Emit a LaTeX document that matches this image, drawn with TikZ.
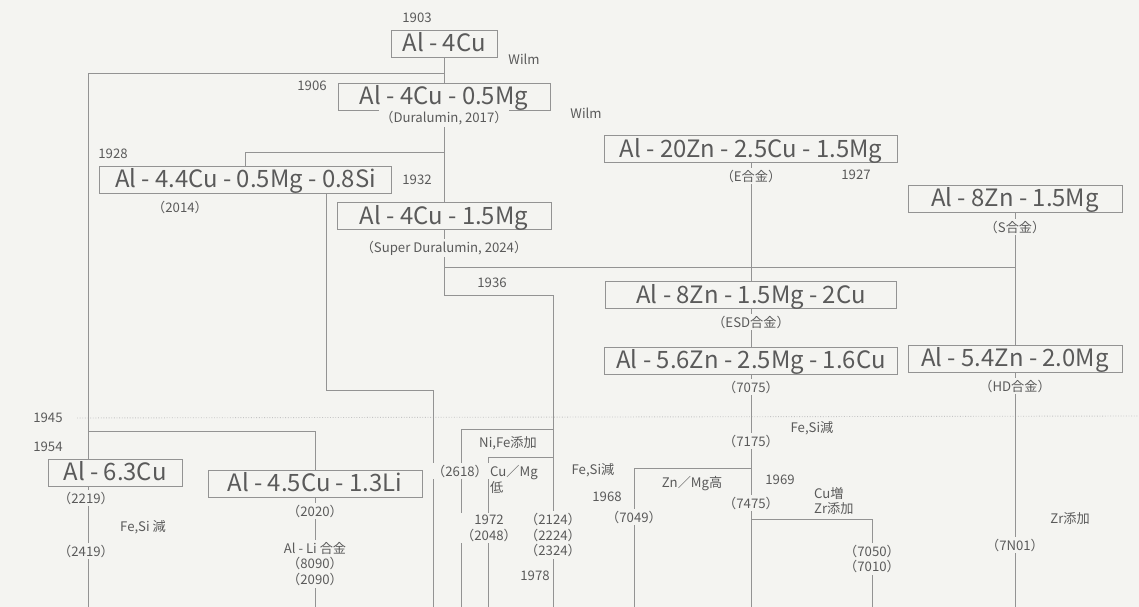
\documentclass[tikz,border=0pt]{standalone}
\usepackage{fontspec}
\newfontfamily\jp{Noto Sans CJK JP}
\usetikzlibrary{backgrounds}
\definecolor{scan}{HTML}{F4F4F1}
\definecolor{ink} {HTML}{5A5A5A}
\definecolor{rule}{HTML}{939393}

\begin{document}
\begin{tikzpicture}[x=0.02cm,y=-0.02cm,
          alloy/.style={draw=rule,fill=scan,text=ink,line width=0.55pt,minimum width=#1,
            minimum height=0.54cm,inner sep=0pt,text height=9.6pt,text depth=0pt,
            font=\jp\fontsize{13.6}{16}\selectfont},
          tag/.style={text=ink,inner sep=1pt,align=center,font=\jp\fontsize{7.5}{9}\selectfont},
          ontag/.style={tag,fill=scan},
          e/.style={rule,line width=0.55pt},
          era/.style={rule!55,line width=0.5pt,densely dotted}]
        \useasboundingbox (0,0) rectangle (1139,607);

        % Cu line
        \node[tag] (y1903) at (417,18) {1903};
        \node[alloy=2.12cm] (cu4) at (444,43.5) {Al - 4Cu};
        \node[tag] (w1) at (524,59) {Wilm};
        \node[tag] (y1906) at (312,86) {1906};
        \node[alloy=4.24cm] (cu4mg) at (444,96.5) {Al - 4Cu - 0.5Mg};
        \node[tag] (w2) at (586,113) {Wilm};
        \node[ontag] (dura) at (444,118) {（Duralumin, 2017）};
        \node[tag] (y1928) at (113,154) {1928};
        \node[alloy=5.86cm] (cu44) at (245.5,179.5) {Al - 4.4Cu - 0.5Mg - 0.8Si};
        \node[tag] (a2014) at (180,207) {（2014）};
        \node[tag] (y1932) at (417,180) {1932};
        \node[alloy=4.28cm] (cu4mg15) at (444,216) {Al - 4Cu - 1.5Mg};
        \node[ontag] (sdura) at (444,248) {（Super Duralumin, 2024）};
        \node[tag] (y1936) at (492,283) {1936};

        % Zn line
        \node[alloy=5.86cm] (zn20) at (751,149) {Al - 20Zn - 2.5Cu - 1.5Mg};
        \node[ontag] (ealloy) at (751,176) {（E合金）};
        \node[tag] (y1927) at (856,175) {1927};
        \node[alloy=4.28cm] (zn8) at (1015,198.5) {Al - 8Zn - 1.5Mg};
        \node[ontag] (salloy) at (1015,227) {（S合金）};
        \node[alloy=5.84cm] (zn8cu) at (751,295) {Al - 8Zn - 1.5Mg - 2Cu};
        \node[ontag] (esd) at (751,322) {（ESD合金）};
        \node[alloy=5.86cm] (zn56) at (751,360.5) {Al - 5.6Zn - 2.5Mg - 1.6Cu};
        \node[ontag] (a7075) at (751,387) {（7075）};
        \node[alloy=4.28cm] (zn54) at (1015,358.5) {Al - 5.4Zn - 2.0Mg};
        \node[ontag] (hd) at (1015,386) {（HD合金）};

        % after 1945
        \node[tag] (y1945) at (48,418) {1945};
        \node[tag] (y1954) at (48,447) {1954};
        \node[alloy=2.68cm] (cu63) at (115,472.5) {Al - 6.3Cu};
        \node[ontag] (a2219) at (86,498) {（2219）};
        \node[tag] (fesi1) at (143,527) {Fe,Si 減};
        \node[ontag] (a2419) at (86,551) {（2419）};
        \node[alloy=4.28cm] (cu45li) at (315,483.5) {Al - 4.5Cu - 1.3Li};
        \node[ontag] (a2020) at (315,511) {（2020）};
        \node[ontag] (alli) at (315,564) {Al - Li 合金\\（8090）\\（2090）};
        \node[tag] (nife) at (508,443) {Ni,Fe添加};
        \node[ontag] (a2618) at (460,471) {（2618）};
        \node[tag,anchor=north west,align=left] (cumg) at (488,463) {Cu／Mg\\低};
        \node[ontag] (a2048) at (489,528) {1972\\（2048）};
        \node[ontag] (a2124) at (553,535) {（2124）\\（2224）\\（2324）};
        \node[tag] (y1978) at (535,576) {1978};
        \node[tag] (fesi2) at (593,470) {Fe,Si減};
        \node[tag] (y1968) at (607,497) {1968};
        \node[ontag] (a7049) at (634,517) {（7049）};
        \node[tag] (znmg) at (692,484) {Zn／Mg高};
        \node[ontag] (a7175) at (751,441) {（7175）};
        \node[tag] (fesi3) at (812,428) {Fe,Si減};
        \node[tag] (y1969) at (780,480) {1969};
        \node[ontag] (a7475) at (751,503) {（7475）};
        \node[tag,anchor=west,align=left] (cuzr) at (812,501) {Cu増\\Zr添加};
        \node[ontag] (a7050) at (872,559) {（7050）\\（7010）};
        \node[ontag] (a7n01) at (1015,545) {（7N01）};
        \node[tag] (zr) at (1070,519) {Zr添加};

        \coordinate (j1) at (444,73);   \coordinate (j2) at (444,152);
        \coordinate (k1) at (326,390);  \coordinate (j3) at (553,295);
        \coordinate (j5) at (1015,267); \coordinate (j6) at (751,468);
        \coordinate (j7) at (751,519);  \coordinate (j8) at (88,431);
        \coordinate (j9) at (553,429);  \coordinate (j10) at (553,457);
        \coordinate (endA) at (88,607); \coordinate (endB) at (433,607);
        \coordinate (endC) at (553,607); \coordinate (endD) at (1015,607);
        \coordinate (endE) at (751,607); \coordinate (endF) at (634,607);
        \coordinate (endG) at (872,607); \coordinate (endH) at (315,607);
        \coordinate (endI) at (461,607); \coordinate (endJ) at (488,607);
        \coordinate (rEnd) at (1139,416);

        \begin{scope}[on background layer]
          \fill[scan] (0,0) rectangle (1139,607);
          \draw[era,shorten <=7pt] (y1945.east) -- (rEnd);
          \draw[e] (cu4) -- (cu4mg);
          \draw[e] (j1) -| (endA);
          \draw[e] (cu4mg) -- (cu4mg15);
          \draw[e] (j2) -| (cu44);
          \draw[e] (cu44.south -| k1) -- (k1) -| (endB);
          \draw[e] (cu4mg15.south) |- (j3) -- (endC);
          \draw[e] (cu4mg15.south |- j5) -- (j5);
          \draw[e] (zn8) -- (zn54);
          \draw[e] (zn54) -- (endD);
          \draw[e] (zn20) -- (zn8cu);
          \draw[e] (zn8cu) -- (zn56);
          \draw[e] (zn56) -- (endE);
          \draw[e] (j6) -| (endF);
          \draw[e] (j7) -| (endG);
          \draw[e] (j8) -| (cu45li);
          \draw[e] (cu45li) -- (endH);
          \draw[e] (j9) -| (endI);
          \draw[e] (j10) -| (endJ);
        \end{scope}
      \end{tikzpicture}
\end{document}
